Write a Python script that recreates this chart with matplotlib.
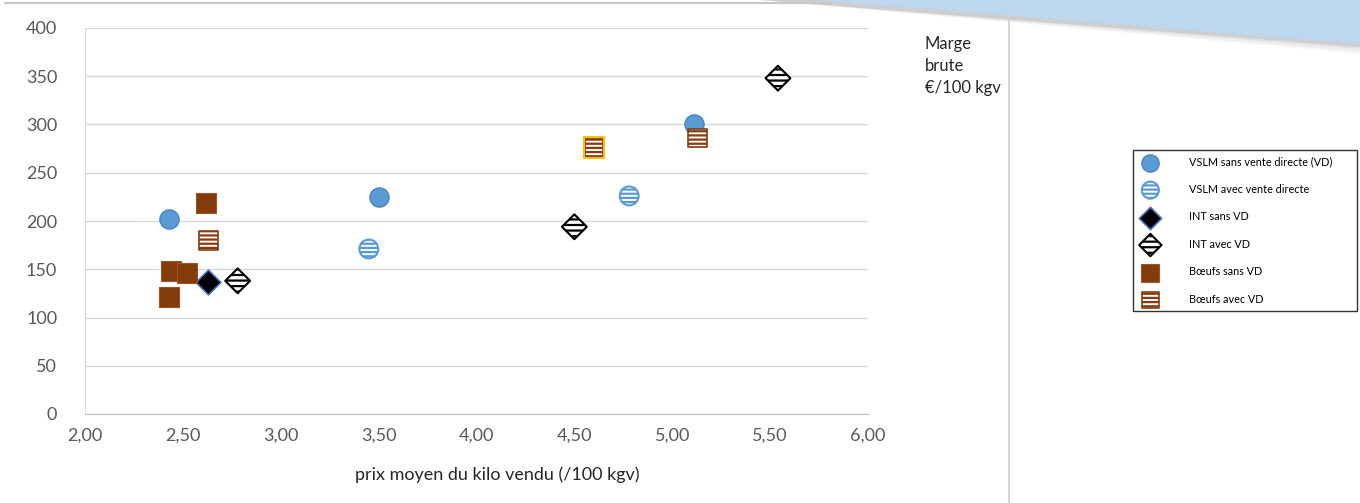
import matplotlib.pyplot as plt
from matplotlib.patches import Polygon
from matplotlib.lines import Line2D

plt.rcParams['font.family'] = ['Lato', 'DejaVu Sans']
plt.rcParams['hatch.linewidth'] = 1.6

# data (x = prix moyen du kilo vendu, y = marge brute)
vslm_sans_x = [2.43, 3.50, 5.11]
vslm_sans_y = [202, 225, 300]
vslm_avec_x = [3.45, 4.78]
vslm_avec_y = [171, 226]
int_sans_x = [2.63]
int_sans_y = [137]
int_avec_x = [2.78, 4.50, 5.54]
int_avec_y = [138, 194, 348]
boeufs_sans_x = [2.62, 2.44, 2.52, 2.43]
boeufs_sans_y = [219, 148, 146, 121]
boeufs_avec_x = [2.63, 4.60, 5.13]
boeufs_avec_y = [180, 276, 286]
boeufs_avec_highlight = [False, True, False]

x_ticks = [2.0, 2.5, 3.0, 3.5, 4.0, 4.5, 5.0, 5.5, 6.0]
y_ticks = [0, 50, 100, 150, 200, 250, 300, 350, 400]

blue = '#5B9BD5'
blue_edge = '#4A84BC'
brown = '#843C0C'
grey_txt = '#595959'

fig = plt.figure(figsize=(13.6, 5.03), dpi=100)
ax = fig.add_axes([85 / 1360, 89 / 503, 783 / 1360, 386 / 503])

ax.scatter(vslm_sans_x, vslm_sans_y, s=190, marker='o', color=blue, edgecolors=blue_edge,
           linewidths=1, label='VSLM sans vente directe (VD)', zorder=3)
ax.scatter(vslm_avec_x, vslm_avec_y, s=185, marker='o', facecolors='white', edgecolors=blue,
           linewidths=1.5, hatch='----', label='VSLM avec vente directe', zorder=3)
ax.scatter(int_sans_x, int_sans_y, s=160, marker='D', color='black', edgecolors='#4472C4',
           linewidths=1.2, label='INT sans VD', zorder=3)
ax.scatter(int_avec_x, int_avec_y, s=160, marker='D', facecolors='white', edgecolors='black',
           linewidths=1.5, hatch='---', label='INT avec VD', zorder=3)
ax.scatter(boeufs_sans_x, boeufs_sans_y, s=225, marker='s', color=brown, edgecolors='#9A5530',
           linewidths=0.8, label='Bœufs sans VD', zorder=3)
ax.scatter(boeufs_avec_x, boeufs_avec_y, s=180, marker='s', facecolors='white', edgecolors=brown,
           linewidths=1.2, hatch='----', label='Bœufs avec VD', zorder=3)
hx = [x for x, h in zip(boeufs_avec_x, boeufs_avec_highlight) if h]
hy = [y for y, h in zip(boeufs_avec_y, boeufs_avec_highlight) if h]
ax.scatter(hx, hy, s=215, marker='s', facecolors='none', edgecolors='#FFC000',
           linewidths=1.5, zorder=4)

ax.set_xlim(2, 6)
ax.set_ylim(0, 400)
ax.set_xticks(x_ticks)
ax.set_xticklabels([('%.2f' % v).replace('.', ',') for v in x_ticks])
ax.set_yticks(y_ticks)
ax.grid(axis='y', color='#D9D9D9', linewidth=1)
ax.set_axisbelow(True)
ax.tick_params(length=0, labelsize=13, labelcolor=grey_txt, pad=10)
ax.tick_params(axis='y', pad=20)
for side in ['top', 'right']:
    ax.spines[side].set_visible(False)
ax.spines['left'].set_color('#D9D9D9')
ax.spines['bottom'].set_color('#BFBFBF')
ax.set_xlabel('prix moyen du kilo vendu (/100 kgv)', fontsize=13, color='#262626')
ax.xaxis.set_label_coords(0.526, -0.135)

fig.text(925 / 1360, 1 - 66 / 503, 'Marge\nbrute\n€/100 kgv', fontsize=12, color='#262626',
         va='center', ha='left', linespacing=1.45)

leg = fig.legend(loc='upper left', bbox_to_anchor=(1133 / 1360, 1 - 315 / 503, 224 / 1360, 165 / 503),
                 mode='expand', fontsize=7.8, frameon=True, fancybox=False, edgecolor='black',
                 labelspacing=1.52, borderpad=0.6, handletextpad=2.6, borderaxespad=0,
                 scatterpoints=1, markerscale=0.9)
leg.get_frame().set_linewidth(1)

# decoration: vertical separator, top rule and blue banner
fig.add_artist(Line2D([1009 / 1360, 1009 / 1360], [0, 1 - 15 / 503], color='#D0D0D0', lw=1.2))
fig.add_artist(Line2D([5 / 1360, 830 / 1360], [1 - 3 / 503, 1 - 3 / 503], color='#C8C8C8', lw=1.5))
for i, a in enumerate([0.05, 0.08, 0.12, 0.18]):
    off = (4 - i) * 2.5
    fig.add_artist(Polygon([(760 / 1360, 1), (1360 / 1360, 1),
                            (1360 / 1360, 1 - (44 + off) / 503)],
                           closed=True, facecolor='grey', edgecolor='none', alpha=a))
fig.add_artist(Polygon([(815 / 1360, 1), (1360 / 1360, 1), (1360 / 1360, 1 - 44 / 503)],
                       closed=True, facecolor='#BDD7EE', edgecolor='none'))

fig.savefig('out.png', dpi=100)
